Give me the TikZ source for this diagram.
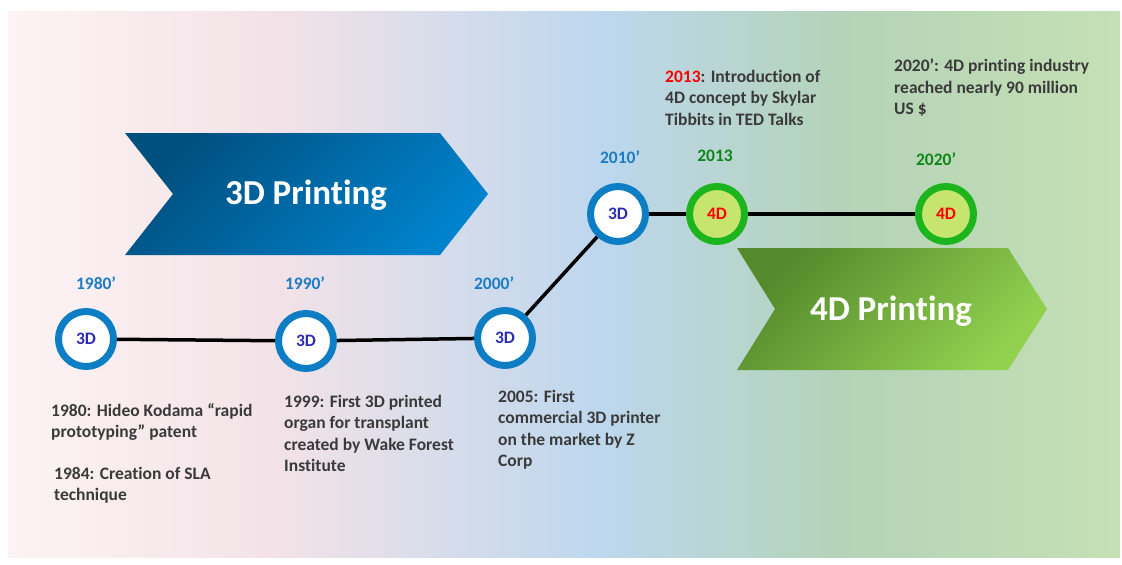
\documentclass[tikz,border=0pt]{standalone}
\usepackage{fontspec}
\setmainfont{Carlito}[Ligatures={TeX,NoCommon}]
\usetikzlibrary{positioning}
\definecolor{bgA}{HTML}{FDF3F4}
\definecolor{bgB}{HTML}{F2E2E7}
\definecolor{bgC}{HTML}{BDD7EE}
\definecolor{bgD}{HTML}{B4D3B8}
\definecolor{bgE}{HTML}{C5E0B4}
\definecolor{blueDark}{HTML}{00507F}
\definecolor{blueLight}{HTML}{0082CC}
\definecolor{greenDark}{HTML}{548A2C}
\definecolor{greenLight}{HTML}{92D150}
\definecolor{ringblue}{HTML}{0E7EC4}
\definecolor{ringgreen}{HTML}{1DB51D}
\definecolor{limefill}{HTML}{C6E56E}
\definecolor{navytext}{HTML}{2C2CB0}
\definecolor{yearblue}{HTML}{1C7DC5}
\definecolor{yeargreen}{HTML}{0F861A}
\definecolor{notegray}{HTML}{3A3A3A}
\tikzstyle{ring3d} = [circle, draw=ringblue, fill=white, line width=7pt, minimum size=55pt, inner sep=0pt, text=navytext, font=\fontsize{17.5}{17.5}\selectfont\bfseries]
\tikzstyle{ring4d} = [ring3d, draw=ringgreen, fill=limefill, text=red]
\tikzstyle{year3d} = [text=yearblue, inner sep=0pt, font=\fontsize{17.5}{17.5}\selectfont\bfseries]
\tikzstyle{year4d} = [year3d, text=yeargreen]
\tikzstyle{note} = [anchor=north west, align=left, inner sep=0pt, text=notegray, font=\fontsize{17.5}{21.5}\selectfont\bfseries]
\tikzstyle{banner} = [text=white, inner sep=0pt, font=\fontsize{35}{35}\selectfont\bfseries]
\tikzstyle{link} = [line width=3.5pt, black]

\begin{document}
\begin{tikzpicture}[x=1pt, y=-1pt]
    \useasboundingbox (0,0) rectangle (1122,565);
    % background
    \shade[left color=bgA, right color=bgB] (8,11) rectangle (281,557);
    \shade[left color=bgB, right color=bgC] (280,11) rectangle (601,557);
    \shade[left color=bgC, right color=bgD] (600,11) rectangle (841,557);
    \shade[left color=bgD, right color=bgE] (840,11) rectangle (1120,557);

    % banners
    \shade[top color=blueDark, bottom color=blueLight, shading angle=45]
        (125,133) -- (440,133) -- (488,194) -- (440,255) -- (125,255) -- (173,194) -- cycle;
    \node[banner] (title3d) at (306,195) {3D Printing};
    \shade[top color=greenDark, bottom color=greenLight, shading angle=45]
        (737,248) -- (1008,248) -- (1047,309) -- (1008,370) -- (737,370) -- (775,309) -- cycle;
    \node[banner] (title4d) at (891,311) {4D Printing};

    % timeline
    \node[ring3d, name=c1980] at (86,339) {3D};
    \node[ring3d, right of=c1980, name=c1990, node distance=220pt, yshift=-2pt] {3D};
    \node[ring3d, name=c2000] at (505,338) {3D};
    \node[ring3d, name=c2010] at (618,214) {3D};
    \node[ring4d, right of=c2010, name=c2013, node distance=99pt] {4D};
    \node[ring4d, right of=c2013, name=c2020, node distance=229pt] {4D};

    \draw[link] (c1980) -- (c1990);
    \draw[link] (c1990) -- (c2000);
    \draw[link] (c2000) -- (c2010);
    \draw[link] (c2010) -- (c2013);
    \draw[link] (c2013) -- (c2020);

    % years
    \node[year3d] (y1980) at (96,283) {1980’};
    \node[year3d] (y1990) at (305,283) {1990’};
    \node[year3d] (y2000) at (494,283) {2000’};
    \node[year3d] (y2010) at (620,157) {2010’};
    \node[year4d] (y2013) at (715,156) {2013};
    \node[year4d] (y2020) at (936,159) {2020’};

    % events
    \node[note] (e1980) at (51,403) {1980: Hideo Kodama “rapid\\prototyping” patent};
    \node[note] (e1984) at (54,467) {1984: Creation of SLA\\technique};
    \node[note] (e1999) at (284,395) {1999: First 3D printed\\organ for transplant\\created by Wake Forest\\Institute};
    \node[note] (e2005) at (498,390) {2005: First\\commercial 3D printer\\on the market by Z\\Corp};
    \node[note] (e2013) at (665,70) {\textcolor{red}{2013}: Introduction of\\4D concept by Skylar\\Tibbits in TED Talks};
    \node[note] (e2020) at (894,59) {2020’: 4D printing industry\\reached nearly 90 million\\US \$};
\end{tikzpicture}
\end{document}
